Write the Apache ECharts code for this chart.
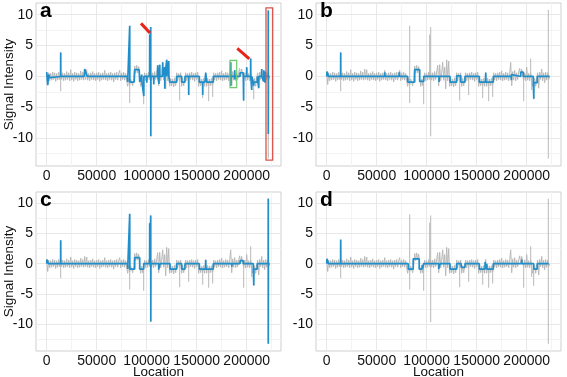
<!DOCTYPE html>
<html><head><meta charset="utf-8">
<script src="https://cdn.jsdelivr.net/npm/echarts@6/dist/echarts.min.js"></script>
<style>html,body{margin:0;padding:0;background:#fff}#c{width:567px;height:377px}</style>
</head><body><div id="c"></div>
<script>
// Locations are in thousands of bases
const rawStartK = 0, rawStepK = 1;
const rawSignal = [
 0.7,-1.3,0.6,-0.7,0.5,-0.6,0.7,-0.5,0.6,-0.8,
 0.5,-0.6,0.7,-0.5,0.6,-0.5,0.6,-0.7,0.5,-0.6,
 0.8,-0.5,0.6,-0.7,1.1,-0.6,0.5,-0.8,0.7,-0.5,
 0.6,-0.7,0.5,-0.6,0.9,-0.5,0.7,-0.6,1.2,-0.5,
 1.1,-0.6,0.5,-0.7,0.6,-0.5,0.8,-0.6,0.5,-0.7,
 0.6,-0.5,0.7,-0.8,0.5,-0.6,0.6,-0.5,1.0,-0.6,
 0.5,-0.7,0.6,-0.5,0.7,-0.6,0.5,-0.9,0.6,-0.5,
 0.7,-0.6,0.5,1.0,-0.7,0.6,-0.5,0.7,-0.6,0.5,
 -0.7,-1.6,-0.3,-1.4,-0.4,-0.2,-1.5,-0.3,1.7,0.5,
 1.8,0.6,1.6,-0.3,-1.6,-0.4,-1.5,-0.5,0.6,-0.7,
 0.5,-0.6,0.7,-0.5,0.6,-0.6,0.6,-0.7,0.8,-0.5,
 0.7,1.8,-1.5,1.9,-0.7,0.6,2.3,-0.6,1.5,-2.0,
 2.7,-0.7,2.5,-1.6,-0.3,-1.5,-0.4,-1.7,-0.2,-1.5,
 0.6,-0.7,0.5,-0.5,0.6,-1.6,-0.3,-1.5,-0.4,0.6,
 -0.7,0.5,-0.6,0.6,-0.5,0.7,-0.6,0.5,-0.8,0.6,
 -0.5,0.7,-1.6,-0.3,-1.5,-0.4,-1.5,-0.3,-1.6,0.7,
 -1.6,-0.3,-1.5,-0.4,-1.5,-0.3,-1.4,0.6,-0.6,0.5,
 -0.7,0.6,-0.5,0.7,-0.6,0.9,-0.7,0.5,-0.6,0.7,
 -0.5,0.6,-0.7,0.5,2.3,-1.5,0.8,-0.6,1.0,-0.7,
 0.6,-0.5,0.7,1.3,0.0,1.2,0.1,-0.6,0.6,-0.7,
 1.5,-0.6,0.5,-0.7,0.6,-0.6,-1.6,-1.5,-0.3,-1.6,
 -0.2,0.6,-1.9,0.7,-0.5,1.2,-0.7,0.6,-1.0,0.7,
 -0.6,0.6,-0.5,0.0
];
// isolated raw spikes: [location, from, to]
const rawSpikes = [[14,-2.4,3.9],[83,-4.3,8.2],[97,0,-4.5],[103,0,6.8],[104,-9.7,8.0],[133,0,-3.9],[142,0,-3.0],
 [156,-0.9,-3.5],[162,-0.9,-4.0],[166,-0.9,-3.3],[197,0,-4.0],[204,0,2.9],[205,0,-2.2],[207,-0.9,-3.7],[221.6,-13.3,10.8]];
const fitA = [[0,0.7],[1,-1.4],[2,0.3],[3,-0.2],[4,0],[13.9,0],[14,3.9],[14.1,0],[37.5,0],[38,1.2],[40,1.1],[40.5,0],
 [80.5,0],[81,-0.9],[82.9,-0.9],[83,8.2],[83.1,-0.9],[87.5,-0.9],[88,1.1],[92.5,1.1],[93,-0.9],[95,-0.9],[95.1,0.3],[95.2,-0.9],[97,-0.9],[97.1,-3.2],[97.2,0],
 [100,0],[100.1,-1.0],[100.2,0],[102.9,0],[103,6.8],[103.1,0],[103.9,0],[104,8.0],[104.1,-9.7],[104.2,0],
 [107,0],[107.1,-1.3],[107.2,0],[110.9,0],[111,1.8],[111.1,0],[112.2,0],[112.3,-1.2],[112.4,0],[112.9,0],[113,1.9],[113.1,0],[115.9,0],[116,2.3],[116.1,0],[117.9,0],[118,1.5],[118.1,-2.0],[118.2,0],[119.9,0],[120,2.7],[120.1,0],[121.9,0],[122,2.5],[122.1,0],
 [123,0],[123,-0.9],[130,-0.9],[130,0],[135,0],[135,-0.9],[138.3,-0.9],[138.3,0],[141.9,0],[142,-3.0],[142.1,0],
 [152.6,0],[152.6,-0.9],[155.9,-0.9],[156,-3.0],[156.1,-0.9],[158.3,-0.9],[159,0.6],[160,-0.9],[166.6,-0.9],[166.6,0],
 [183.9,0],[184,2.3],[184.1,-1.5],[184.2,0],[187.9,0],[188,1.0],[188.1,-0.5],[188.2,0],
 [193.3,0],[193.3,0.6],[196.6,0.6],[196.6,0],[196.9,-3.9],[197,0],[199.9,0],[200,1.5],[200.1,0],[203.9,0],[204,2.9],[204.1,0],[204.9,0],[205,-2.2],[205.1,0],
 [206.6,0],[206.6,-0.9],[207,-0.9],[207.1,-1.5],[207.2,-0.9],[210.6,-0.9],[210.6,0],[211.9,0],[212,-1.9],[212.1,0],[214.9,0],[215,1.2],[215.1,0],[216.9,0],[217,-0.8],[217.1,1.0],[217.2,0],[218.5,-1.0],[218.7,0.8],[218.8,0],
 [221.5,0],[221.6,10.7],[221.6,-9.3],[221.7,0],[223,0]];
const fitB = [[0,0],[0.3,0.8],[1.5,0.8],[1.8,0],[13.9,0],[14,3.9],[14.1,0],
 [58,0],[58.1,0.7],[58.2,0],[72.5,0],[72.6,0.7],[72.7,0],
 [81,0],[81,-0.9],[88,-0.9],[88,1.1],[93,1.1],[93,-0.8],[97,-0.8],[97,0],
 [112.3,0],[112.4,-0.9],[112.5,0],
 [123.3,0],[123.3,-0.9],[130,-0.9],[130,0.1],[134,0.1],[134,-0.9],[138.3,-0.9],[138.3,0],
 [152.6,0],[152.6,-0.9],[158.8,-0.9],[159,0.6],[159.2,-0.9],[166.6,-0.9],[166.6,0],
 [184.5,0],[184.6,-0.6],[184.7,0.3],[184.8,0],
 [194,0],[194,0.7],[196.6,0.7],[196.6,0],
 [206.6,0],[206.6,-1.0],[207,-1.0],[207.1,-3.6],[207.2,-1.0],[210.6,-1.0],[210.6,0],
 [223,0]];
const fitC = [[0,0],[0.3,0.7],[1.5,0.7],[1.8,0],[13.9,0],[14,3.9],[14.1,0],
 [81,0],[81,-0.9],[82.9,-0.9],[83,8.3],[83.1,-0.9],[88,-0.9],[88,1.0],[93,1.0],[93,-0.9],[97,-0.9],[97,0],
 [102.9,0],[103,6.7],[103.1,0],[103.9,0],[104,8.0],[104.1,-9.6],[104.2,0],
 [112,0],[112,-1.0],[113.3,-1.0],[113.3,0],
 [123.3,0],[123.3,-0.9],[130,-0.9],[130,0],[135,0],[135,-0.9],[138.3,-0.9],[138.3,0],
 [152.6,0],[152.6,-0.9],[158.8,-0.9],[159,0.6],[159.2,-0.9],[166.6,-0.9],[166.6,0],
 [185,0],[185.1,-0.5],[185.2,0],
 [193.3,0],[193.3,0.5],[196.6,0.5],[196.6,0],
 [206.6,0],[206.6,-0.9],[207,-0.9],[207.1,-3.6],[207.2,-0.9],[210.6,-0.9],[210.6,0],
 [221.5,0],[221.6,10.8],[221.6,-13.3],[221.7,0],[223,0]];
const fitD = [[0,0],[0.3,0.8],[1.5,0.8],[1.8,0],[13.9,0],[14,4.0],[14.1,0],
 [81.5,0],[81.5,-0.9],[86.5,-0.9],[86.5,0.8],[92.5,0.8],[92.5,-0.9],[95.5,-0.9],[95.6,-0.2],[95.7,-0.9],[97,-0.9],[97,0],
 [112,0],[112,-0.9],[113.3,-0.9],[113.3,0],
 [123.3,0],[123.3,-0.9],[130,-0.9],[130,0],[134.5,0],[134.5,-0.6],[138.3,-0.6],[138.3,0],
 [152.6,0],[152.6,-0.9],[158.3,-0.9],[158.4,0.3],[158.5,-0.9],[160,-0.9],[160.1,0],[160.2,-0.9],[166.6,-0.9],[166.6,0],
 [195,0],[195.1,0.7],[195.2,0],
 [207,0],[207,-0.9],[210.6,-0.9],[210.6,0],
 [222,0]];
const fits = [fitA, fitB, fitC, fitD];
const panelLetters = ['a','b','c','d'];
const xTicks = [0,50,100,150,200];
const xMinor = [25,75,125,175,225];
const yTicks = [-10,-5,0,5,10];
const yMinor = [-12.5,-7.5,-2.5,2.5,7.5];
// annotations in panel a (data coords)
const arrowsA = [[[94.3,8.6],[103.3,7.05]],[[190.6,4.56],[202.6,2.85]]];
const greenBoxA = [[183.3,2.6],[190,-1.8]];
const redBoxA = [[219.3,11.1],[226,-13.55]];

const FONT = '"Liberation Sans", Arial, sans-serif';
const grids = [
  {left:36, top:3, width:245, height:163},
  {left:316, top:3, width:245, height:163},
  {left:36, top:192, width:245, height:159},
  {left:316, top:192, width:245, height:159}
].map(g => Object.assign(g, {show:true, borderColor:'#cfcfcf', borderWidth:1, backgroundColor:'rgba(0,0,0,0)', containLabel:false, outerBoundsMode:'none'}));

const rawPairs = rawSignal.map((v,i)=>[rawStartK + i*rawStepK, v]);
const spikePairs = [];
rawSpikes.forEach(s=>{ spikePairs.push([s[0], s[1]], [s[0], s[2]], [s[0], '-']); });
const xAxes = [], yAxes = [], series = [];
for (let i=0;i<4;i++){
  xAxes.push({gridIndex:i, type:'value', min:-10.7, max:234.3,
    axisLine:{show:false}, axisTick:{show:false}, splitLine:{show:false},
    axisLabel:{customValues:xTicks, formatter:v=>String(Math.round(v*1000)), fontSize:14, color:'#111', margin:3, fontFamily:FONT},
    name: i>=2 ? 'Location' : '', nameLocation:'middle', nameGap:14, nameMoveOverlap:false,
    nameTextStyle:{fontSize:13.5, color:'#111', fontFamily:FONT}});
  yAxes.push({gridIndex:i, type:'value', min:-14.5, max:11.9,
    axisLine:{show:false}, axisTick:{show:false}, splitLine:{show:false},
    axisLabel:{customValues:yTicks, formatter:v=>String(v), fontSize:14, color:'#111', margin:3, fontFamily:FONT},
    name: i%2===0 ? 'Signal Intensity' : '', nameLocation:'middle', nameGap:20, nameMoveOverlap:false,
    nameTextStyle:{fontSize:13.5, color:'#111', fontFamily:FONT}});
  const gl = [];
  xMinor.forEach(v=>gl.push({xAxis:v, lineStyle:{color:'#f3f3f3', width:1, type:'solid'}}));
  yMinor.forEach(v=>gl.push({yAxis:v, lineStyle:{color:'#f3f3f3', width:1, type:'solid'}}));
  xTicks.forEach(v=>gl.push({xAxis:v, lineStyle:{color:'#e8e8e8', width:1, type:'solid'}}));
  yTicks.forEach(v=>gl.push({yAxis:v, lineStyle:{color:'#e8e8e8', width:1, type:'solid'}}));
  series.push({type:'line', xAxisIndex:i, yAxisIndex:i, data:[], z:0, silent:true,
    markLine:{z:0, silent:true, symbol:'none', label:{show:false}, animation:false, data:gl}});
  series.push({type:'line', xAxisIndex:i, yAxisIndex:i, data:rawPairs, z:2, silent:true,
    showSymbol:false, symbol:'none', lineStyle:{color:'#b8b8b8', width:1, join:'bevel'}});
  series.push({type:'line', xAxisIndex:i, yAxisIndex:i, data:spikePairs, z:2, silent:true, connectNulls:false,
    showSymbol:false, symbol:'none', lineStyle:{color:'#b8b8b8', width:1}});
  series.push({type:'line', xAxisIndex:i, yAxisIndex:i, data:fits[i], z:3, silent:true,
    showSymbol:false, symbol:'none', lineStyle:{color:'#1f8fcc', width:1.7, join:'bevel'}});
}
series.push({type:'line', xAxisIndex:0, yAxisIndex:0, data:[], z:6, silent:true,
  markLine:{z:6, silent:true, symbol:['none','arrow'], symbolSize:[0,11], label:{show:false}, animation:false,
    lineStyle:{color:'#e8231a', width:3, type:'solid'},
    data: arrowsA.map(a=>[{coord:a[0]},{coord:a[1]}])},
  markArea:{z:6, silent:true, animation:false, label:{show:false},
    data:[
      [{coord:greenBoxA[0], itemStyle:{color:'rgba(0,0,0,0)', borderColor:'#6cc96c', borderWidth:1.2}},{coord:greenBoxA[1]}],
      [{coord:redBoxA[0], itemStyle:{color:'rgba(0,0,0,0)', borderColor:'#d9534a', borderWidth:1.3}},{coord:redBoxA[1]}]
    ]}});

const letterPos = [[40,1],[320,1],[40,190],[320,190]];
const graphic = panelLetters.map((t,i)=>({type:'text', left:letterPos[i][0], top:letterPos[i][1], z:10,
  style:{text:t, font:'bold 21px '+FONT, fill:'#000'}}));

const chart = echarts.init(document.getElementById('c'), null, {renderer:'canvas'});
chart.setOption({animation:false, grid:grids, xAxis:xAxes, yAxis:yAxes, series:series, graphic:graphic});
</script></body></html>
